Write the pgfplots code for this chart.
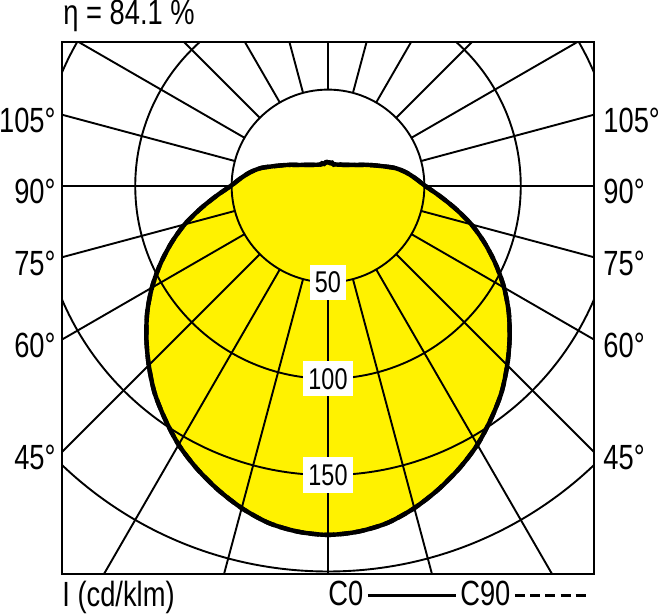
\documentclass[border=0pt]{standalone}
\usepackage{fontspec}
\setmainfont{Liberation Sans}[FakeStretch=0.78]
\usepackage{pgfplots}
\usepackage{pgfplotstable}
\pgfplotsset{compat=1.18}

% luminous intensity (cd/klm) against gamma, C0/C180 and C90/C270 planes
\pgfplotstableread{
g C0 C90
-180 12.3 12.6
-175 12.2 12.4
-170 11.8 11.6
-165 11.7 12.2
-160 11.9 11.8
-155 12.2 12.3
-150 12.7 12.5
-145 13.4 13.4
-140 14.3 14.3
-135 15.5 15.5
-130 17 17
-125 19 19
-120 22 22
-115 25.5 25.5
-110 30 30
-105 36 36
-100 41 41
-95 45.5 45.5
-90 50.5 50.5
-85 58 58
-80 67 67
-75 77 77
-70 86.5 86.5
-65 96 96
-60 105.5 105.5
-55 114.5 114.5
-50 123 123
-45 131.5 131.5
-40 140 140
-35 147.5 147.5
-30 155 155
-25 161.5 161.5
-20 167.5 167.5
-15 173 173
-10 177.5 177.5
-5 180 180
0 181 181
5 180 180
10 177.5 177.5
15 173 173
20 167.5 167.5
25 161.5 161.5
30 155 155
35 147.5 147.5
40 140 140
45 131.5 131.5
50 123 123
55 114.5 114.5
60 105.5 105.5
65 96 96
70 86.5 86.5
75 77 77
80 67 67
85 58 58
90 50.5 50.5
95 45.5 45.5
100 41 41
105 36 36
110 30 30
115 25.5 25.5
120 22 22
125 19 19
130 17 17
135 15.5 15.5
140 14.3 14.3
145 13.4 13.4
150 12.7 12.9
155 12.2 12.0
160 11.9 12.4
165 11.7 11.5
170 11.8 12.3
175 12.2 11.9
180 12.3 12.6
}\ldc

\begin{document}
\begin{tikzpicture}[font=\fontsize{17.5}{20}\selectfont]
\useasboundingbox (-31pt,-20pt) rectangle (298.5pt,287pt);
\begin{axis}[
  at={(0pt,0pt)}, anchor=south west,
  scale only axis, width=266pt, height=266pt,
  xmin=-138, xmax=138, ymin=-201.3, ymax=74.7,
  axis line style={black, line width=1pt},
  ticks=none,
  legend style={at={(0.4944,-0.04)}, anchor=west, draw=none, fill=none,
    inner sep=0pt, font=\fontsize{17.5}{20}\selectfont, legend columns=2,
    nodes={inner sep=1.5pt}},
  legend plot pos=right,
  legend cell align=left,
]
\addplot[fill=yellow, draw=none, smooth, forget plot]
  table[x expr={\thisrow{C0}*sin(\thisrow{g})}, y expr={-\thisrow{C0}*cos(\thisrow{g})}] {\ldc};

% polar grid
\draw[line width=0.95pt] (axis cs:0,0) circle[radius=48.188pt];
\draw[line width=0.95pt] (axis cs:0,0) circle[radius=96.377pt];
\draw[line width=0.95pt] (axis cs:0,0) circle[radius=144.565pt];
\draw[line width=0.95pt] (axis cs:0,0) circle[radius=192.754pt];
\pgfplotsinvokeforeach{0,15,...,345}{
  \draw[line width=0.95pt] (axis cs:0,0) ++(#1-90:48.188pt) -- ++(#1-90:300pt);
}

\addplot[black, line width=2.2pt, smooth,
  legend image code/.code={\draw[black, line width=1.5pt] (0pt,0pt) -- (44pt,0pt);}]
  table[x expr={\thisrow{C0}*sin(\thisrow{g})}, y expr={-\thisrow{C0}*cos(\thisrow{g})}] {\ldc};
\addlegendentry{C0}
\addplot[black, line width=2.2pt, smooth, dash pattern=on 5pt off 2.6pt,
  legend image code/.code={\draw[black, line width=1.5pt, dash pattern=on 5pt off 2.6pt] (0pt,0pt) -- (35.4pt,0pt);}]
  table[x expr={\thisrow{C90}*sin(\thisrow{g})}, y expr={-\thisrow{C90}*cos(\thisrow{g})}] {\ldc};
\addlegendentry{C90}

\node[fill=white, inner xsep=2.5pt, inner ysep=3.5pt, font=\fontsize{15}{17}\selectfont] at (axis cs:0,-50) {50};
\node[fill=white, inner xsep=2.5pt, inner ysep=3.5pt, font=\fontsize{15}{17}\selectfont] at (axis cs:0,-100) {100};
\node[fill=white, inner xsep=2.5pt, inner ysep=3.5pt, font=\fontsize{15}{17}\selectfont] at (axis cs:0,-150) {150};

\coordinate (L105) at (axis cs:-138,36.98);
\coordinate (L90) at (axis cs:-138,0);
\coordinate (L75) at (axis cs:-138,-36.98);
\coordinate (L60) at (axis cs:-138,-79.67);
\coordinate (L45) at (axis cs:-138,-138);
\coordinate (R105) at (axis cs:138,36.98);
\coordinate (R90) at (axis cs:138,0);
\coordinate (R75) at (axis cs:138,-36.98);
\coordinate (R60) at (axis cs:138,-79.67);
\coordinate (R45) at (axis cs:138,-138);
\end{axis}

\foreach \a in {105,90,75,60,45} {
  \node[anchor=base east, inner sep=0pt] at ([xshift=-3pt,yshift=-9pt]L\a) {\a°};
  \node[anchor=base west, inner sep=0pt] at ([xshift=4.5pt,yshift=-9pt]R\a) {\a°};
}
\node[anchor=base west, inner sep=0pt] at (0.5pt,274.5pt) {η = 84.1 \%};
\node[anchor=base west, inner sep=0pt] at (0pt,-16.5pt) {I (cd/klm)};
\end{tikzpicture}
\end{document}
